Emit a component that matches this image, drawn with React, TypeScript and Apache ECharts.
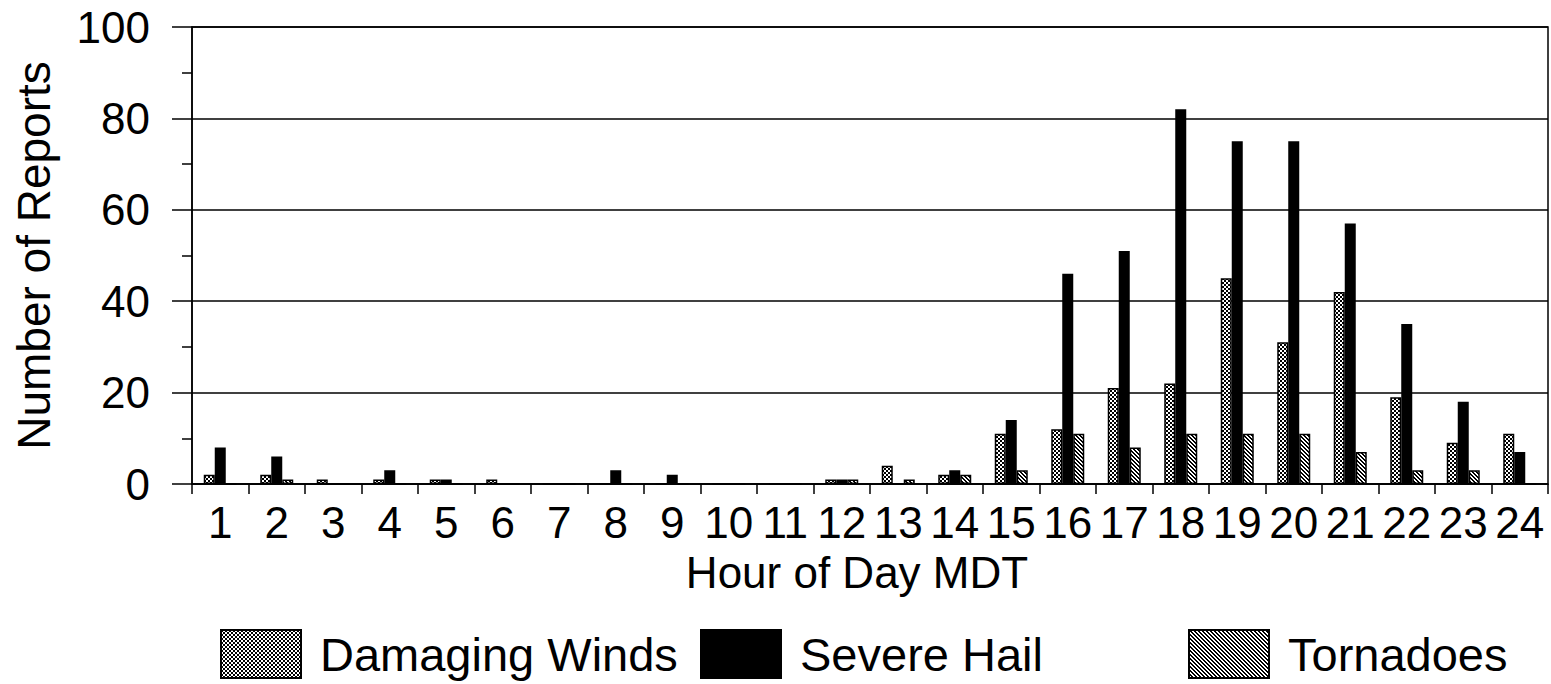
import React, { useEffect, useRef } from "react";
import * as echarts from "echarts";

const hours = ["1","2","3","4","5","6","7","8","9","10","11","12","13","14","15","16","17","18","19","20","21","22","23","24"];
const damagingWinds = [2, 2, 1, 1, 1, 1, 0, 0, 0, 0, 0, 1, 4, 2, 11, 12, 21, 22, 45, 31, 42, 19, 9, 11];
const severeHail = [8, 6, 0, 3, 1, 0, 0, 3, 2, 0, 0, 1, 0, 3, 14, 46, 51, 82, 75, 75, 57, 35, 18, 7];
const tornadoes = [0, 1, 0, 0, 0, 0, 0, 0, 0, 0, 0, 1, 1, 2, 3, 11, 8, 11, 11, 11, 7, 3, 3, 0];
const yTicks = { min: 0, max: 100, interval: 20 };

const FONT = "'Liberation Sans', Arial, Helvetica, sans-serif";

function makeChecker(): HTMLCanvasElement {
  const c = document.createElement("canvas");
  c.width = 4;
  c.height = 4;
  const g = c.getContext("2d")!;
  g.fillStyle = "#ffffff";
  g.fillRect(0, 0, 4, 4);
  g.fillStyle = "#000000";
  g.fillRect(0, 0, 2, 2);
  g.fillRect(2, 2, 2, 2);
  return c;
}

function makeStripes(): HTMLCanvasElement {
  const c = document.createElement("canvas");
  c.width = 4;
  c.height = 4;
  const g = c.getContext("2d")!;
  g.fillStyle = "#ffffff";
  g.fillRect(0, 0, 4, 4);
  g.fillStyle = "#000000";
  for (let y = 0; y < 4; y++) {
    for (let x = 0; x < 4; x++) {
      const d = (((x - y) % 4) + 4) % 4;
      if (d === 0 || d === 1) g.fillRect(x, y, 1, 1);
    }
  }
  return c;
}

export default function App() {
  const ref = useRef<HTMLDivElement>(null);

  useEffect(() => {
    if (!ref.current) return;
    const chart = echarts.init(ref.current, null, { renderer: "svg" });
    const checker = { image: makeChecker(), repeat: "repeat" } as any;
    const stripes = { image: makeStripes(), repeat: "repeat" } as any;

    const barCommon = {
      type: "bar",
      barWidth: 11,
      barGap: "0%",
      barCategoryGap: "42%",
      silent: true,
    };

    const legendText = {
      color: "#000",
      fontSize: 47,
      fontFamily: FONT,
      padding: [0, 0, 0, 14],
    };

    const legendCommon = {
      top: 629,
      padding: 0,
      itemWidth: 80,
      itemHeight: 48,
      icon: "rect",
      textStyle: legendText,
      selectedMode: false,
    };

    chart.setOption({
      animation: false,
      backgroundColor: "#ffffff",
      grid: {
        left: 192,
        right: 3,
        top: 27,
        bottom: 200,
        show: true,
        borderColor: "#000",
        borderWidth: 1.5,
        backgroundColor: "transparent",
      },
      legend: [
        { ...legendCommon, data: ["Damaging Winds"], left: 220 },
        { ...legendCommon, data: ["Severe Hail"], left: 700 },
        { ...legendCommon, data: ["Tornadoes"], left: 1188 },
      ],
      xAxis: {
        type: "category",
        data: hours,
        name: "Hour of Day MDT",
        nameLocation: "middle",
        nameGap: 66,
        nameTextStyle: { color: "#000", fontSize: 44, fontFamily: FONT, padding: [0, 26, 0, 0] },
        axisLine: { show: true, lineStyle: { color: "#000", width: 1.5 } },
        axisTick: { show: true, length: 10, lineStyle: { color: "#000", width: 1.5 } },
        axisLabel: {
          color: "#000",
          fontSize: 44,
          fontFamily: FONT,
          margin: 16,
          interval: 0,
        },
        splitLine: { show: false },
      },
      yAxis: {
        type: "value",
        min: yTicks.min,
        max: yTicks.max,
        interval: yTicks.interval,
        name: "Number of Reports",
        nameLocation: "middle",
        nameGap: 135,
        nameTextStyle: { color: "#000", fontSize: 46, fontFamily: FONT },
        axisLine: { show: true, lineStyle: { color: "#000", width: 1.5 } },
        axisTick: { show: true, length: 20, lineStyle: { color: "#000", width: 1.5 } },
        minorTick: { show: true, splitNumber: 2, length: 10, lineStyle: { color: "#000", width: 1.5 } },
        axisLabel: { color: "#000", fontSize: 44, fontFamily: FONT, margin: 42 },
        splitLine: { show: true, lineStyle: { color: "#000", width: 1.5 } },
      },
      series: [
        {
          ...barCommon,
          name: "Damaging Winds",
          data: damagingWinds,
          itemStyle: { color: checker, borderColor: "#000", borderWidth: 1.5 },
        },
        {
          ...barCommon,
          name: "Severe Hail",
          data: severeHail,
          itemStyle: { color: "#000", borderColor: "#000", borderWidth: 1.5 },
        },
        {
          ...barCommon,
          name: "Tornadoes",
          data: tornadoes,
          itemStyle: { color: stripes, borderColor: "#000", borderWidth: 1.5 },
        },
      ],
    });

    return () => chart.dispose();
  }, []);

  return (
    <div
      ref={ref}
      style={{ position: "absolute", left: 0, top: 0, width: 1551, height: 684 }}
    />
  );
}
